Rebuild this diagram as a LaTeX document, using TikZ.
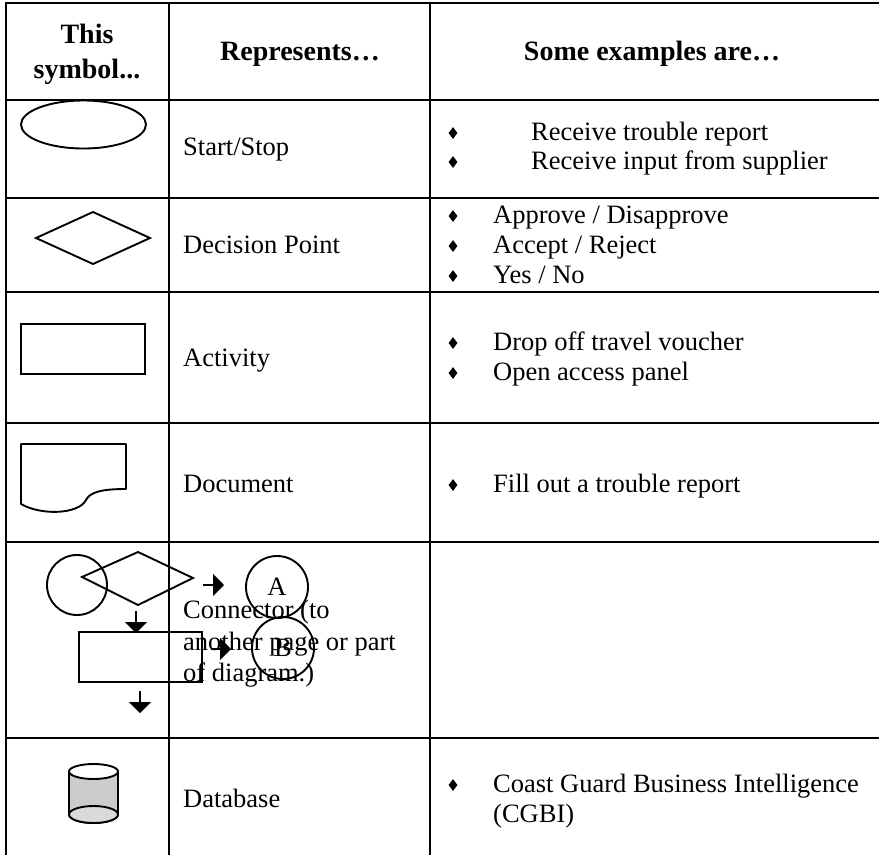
\documentclass[tikz,border=0pt]{standalone}
\usepackage{fontspec}
\setmainfont{Liberation Serif}
\usetikzlibrary{shapes.geometric,arrows.meta}
\definecolor{dbbody}{RGB}{204,204,204}
\definecolor{dbbase}{RGB}{218,218,218}
\begin{document}
\begin{tikzpicture}[x=1pt,y=-1pt,
  rule/.style={line width=2.5pt},
  shp/.style={draw,line width=1.9pt},
  body/.style={font=\fontsize{26.5}{30.5}\selectfont,inner sep=0pt,anchor=base west},
  head/.style={font=\bfseries\fontsize{28}{33}\selectfont,inner sep=0pt,anchor=base},
  bul/.style={diamond,fill=black,inner sep=0pt,minimum width=9pt,minimum height=12pt},
  flow/.style={line width=1.9pt,-{Triangle[width=22pt,length=11pt]}}
]
\useasboundingbox (0,0) rectangle (879,855);

% table rules
\draw[rule,line join=miter] (6,855) -- (6,3) -- (879,3);
\foreach \yy in {100,198,292,423,542,738}
  \draw[rule] (6,\yy) -- (879,\yy);
\draw[rule] (169,3) -- (169,855);
\draw[rule] (430,3) -- (430,855);

% header
\node[head] (hThis) at (87,43) {This};
\node[head] (hSym) at (87,78) {symbol...};
\node[head] (hRep) at (300,60) {Represents…};
\node[head] (hEx) at (652,60) {Some examples are…};

% symbols
\node[shp,ellipse,minimum width=125pt,minimum height=48pt,inner sep=0pt] (startsym) at (83.5,124.5) {};
\draw[shp] (36,238) -- (93,212) -- (150,238) -- (93,264) -- cycle;
\node[shp,rectangle,minimum width=124pt,minimum height=50pt,inner sep=0pt] (actsym) at (83,349) {};
\draw[shp,line join=round] (21,444) -- (126,444) -- (126,489)
  .. controls (102,489) and (90,492) .. (86,500)
  .. controls (79,514) and (42,516) .. (21,504) -- cycle;

% connector sketch
\node[shp,circle,minimum size=60pt,inner sep=0pt] (cOne) at (77,585) {};
\draw[shp] (82,577) -- (138,552) -- (193,578) -- (138,605) -- cycle;
\coordinate (aOneS) at (203,585);
\coordinate (aOneE) at (224,585);
\draw[flow] (aOneS) -- (aOneE);
\node[shp,circle,minimum size=62pt,inner sep=0pt,font=\fontsize{26.5}{30.5}\selectfont] (cA) at (277,587) {A};
\coordinate (aTwoS) at (136,611);
\coordinate (aTwoE) at (136,633);
\draw[flow] (aTwoS) -- (aTwoE);
\node[shp,rectangle,minimum width=123pt,minimum height=50pt,inner sep=0pt] (cRect) at (140.5,657) {};
\coordinate (aThrS) at (211,649);
\coordinate (aThrE) at (231,649);
\draw[flow] (aThrS) -- (aThrE);
\node[shp,circle,minimum size=62pt,inner sep=0pt,font=\fontsize{26.5}{30.5}\selectfont] (cB) at (283,648) {B};
\coordinate (aFouS) at (140,691);
\coordinate (aFouE) at (140,713);
\draw[flow] (aFouS) -- (aFouE);

% database cylinder
\filldraw[shp,fill=dbbody] (69,771.5) -- (69,814.5)
  arc[start angle=180,end angle=360,x radius=24.5pt,y radius=8.5pt]
  -- (118,771.5) -- cycle;
\draw[shp,fill=dbbase] (93.5,814.5) ellipse[x radius=24.5pt,y radius=8.5pt];
\draw[shp,fill=white] (93.5,771.5) ellipse[x radius=24.5pt,y radius=7.5pt];

% second column
\node[body] (rStart) at (183,155) {Start/Stop};
\node[body] (rDec) at (183,253) {Decision Point};
\node[body] (rAct) at (183,366) {Activity};
\node[body] (rDoc) at (183,492) {Document};
\node[body] (rConA) at (183,618) {Connector (to};
\node[body] (rConB) at (183,650) {another page or part};
\node[body] (rConC) at (183,681) {of diagram.)};
\node[body] (rDb) at (183,807) {Database};

% third column
\node[bul] (b1) at (453,133) {};
\node[body] (e1) at (531,140) {Receive trouble report};
\node[bul] (b2) at (453,162) {};
\node[body] (e2) at (531,169) {Receive input from supplier};
\node[bul] (b3) at (453,216) {};
\node[body] (e3) at (493,223) {Approve / Disapprove};
\node[bul] (b4) at (453,246) {};
\node[body] (e4) at (493,253) {Accept / Reject};
\node[bul] (b5) at (453,276) {};
\node[body] (e5) at (493,283) {Yes / No};
\node[bul] (b6) at (453,343) {};
\node[body] (e6) at (493,350) {Drop off travel voucher};
\node[bul] (b7) at (453,373) {};
\node[body] (e7) at (493,380) {Open access panel};
\node[bul] (b8) at (453,485) {};
\node[body] (e8) at (493,492) {Fill out a trouble report};
\node[bul] (b9) at (453,785) {};
\node[body] (e9) at (493,792) {Coast Guard Business Intelligence};
\node[body] (e10) at (493,822) {(CGBI)};
\end{tikzpicture}
\end{document}
